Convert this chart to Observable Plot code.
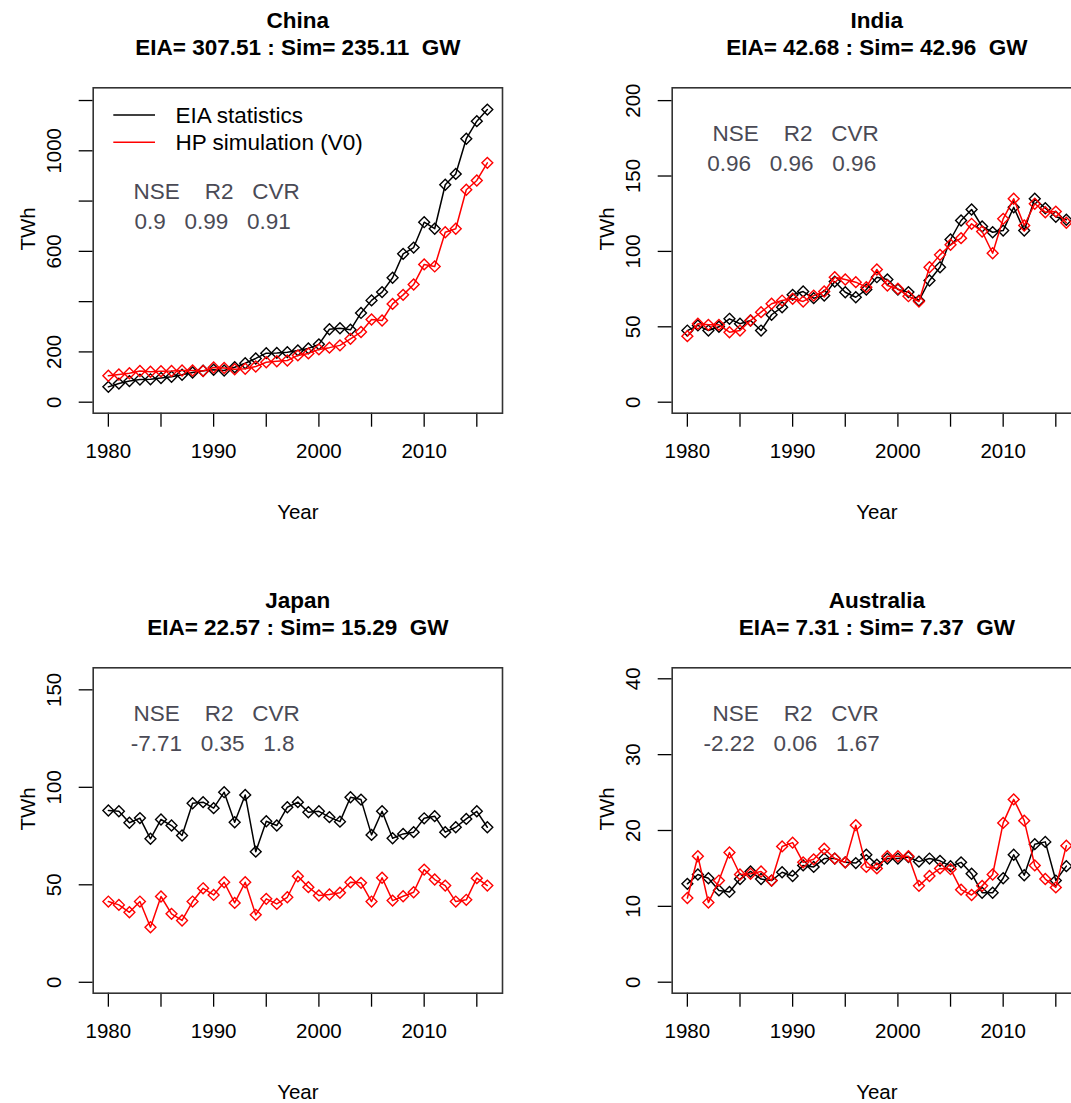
<!DOCTYPE html>
<html>
<head>
<meta charset="utf-8">
<script src="https://cdn.jsdelivr.net/npm/d3@7"></script>
<script src="https://cdn.jsdelivr.net/npm/@observablehq/plot@0.6"></script>
<style>
html, body { margin: 0; padding: 0; background: #fff; }
#wrap { position: relative; width: 1071px; height: 1103px; overflow: hidden; background: #fff; }
.panel { position: absolute; width: 540px; height: 580px; }
.panel svg text { white-space: pre; }
</style>
</head>
<body>
<div id="wrap"></div>
<script>
// ---------- data ----------
const years = [1980,1981,1982,1983,1984,1985,1986,1987,1988,1989,1990,1991,1992,1993,1994,1995,1996,1997,1998,1999,2000,2001,2002,2003,2004,2005,2006,2007,2008,2009,2010,2011,2012,2013,2014,2015,2016];
const xTicks = [1980,1985,1990,1995,2000,2005,2010,2015];
const xTickLabels = [1980,1990,2000,2010];

const countries = ["China", "India", "Japan", "Australia"];
const eiaMeanGW = ["307.51", "42.68", "22.57", "7.31"];
const simMeanGW = ["235.11", "42.96", "15.29", "7.37"];
const statNames = "NSE    R2   CVR";
const nseValues = ["0.9", "0.96", "-7.71", "-2.22"];
const r2Values = ["0.99", "0.96", "0.35", "0.06"];
const cvrValues = ["0.91", "0.96", "1.8", "1.67"];
const legendLabels = ["EIA statistics", "HP simulation (V0)"];
const yAxisTitle = "TWh";
const xAxisTitle = "Year";

const chinaEIA = [61,74,84,90,91,96,101,109,118,125,129,126,139,155,174,195,196,199,206,214,230,290,294,288,355,405,438,495,590,615,716,690,865,908,1048,1118,1164];
const chinaSim = [105,110,115,124,121,123,124,126,126,124,138,136,131,133,142,159,163,166,186,194,210,217,226,252,279,329,325,391,427,468,548,540,676,690,845,882,952];

const indiaEIA = [47.5,50.9,47.5,50,55.3,52,54.2,47.5,58,63,71.2,73.4,69,70.7,80,72.9,69.6,74.7,82.9,81.4,74.7,73,67.4,80.7,89.5,107.9,120.5,127.8,116.5,112.7,113.8,129.3,113.8,134.9,128.6,123,121];
const indiaSim = [43.8,52,51.3,51.3,46.4,47.5,54.2,59.7,65.3,67.4,68.6,66.8,70.7,73.4,82.9,81.4,79.6,76.3,88,77.4,75.2,70.3,66.8,89.5,97.7,104.4,108.8,118.3,113.2,98.8,121.6,134.9,117.2,131.6,126,126.4,119];

const japanEIA = [88.1,87.7,81.8,84.2,73.6,83.5,80.4,75.3,91.8,92.4,89.3,97.5,82.1,96.1,67,82.6,80.4,89.8,92.4,87.2,87.7,84.7,82.4,94.9,93.7,75.6,87.7,73.9,76.1,77,84.1,85.2,77,79.5,83.8,87.7,79.5];
const japanSim = [41.4,39.7,35.9,41.4,28.2,44,35.1,31.7,41.4,48.2,44.8,51.3,40.7,51.3,34.6,42.8,40.2,43.6,54.4,48.8,44.5,45,45.9,51.3,51,41.4,53.6,41.9,44.1,46.2,57.8,52.7,49.6,41.4,42.3,53.4,49.6];

const australiaEIA = [12.97,14.2,13.7,12.1,11.9,13.6,14.6,13.6,13.4,14.5,14,15.4,15.2,16.3,16.3,15.8,15.7,16.8,15.5,16.3,16.3,16.5,15.9,16.3,16,15.3,15.8,14.3,11.8,11.8,13.7,16.8,14.1,18.2,18.5,13.4,15.3];
const australiaSim = [11.1,16.6,10.5,13.4,17.1,14.2,14.3,14.6,13.4,17.9,18.4,15.8,16.2,17.6,16.3,15.8,20.7,15.2,15,16.6,16.6,16.6,12.7,14,15,14.9,12.2,11.5,12.7,14.2,21,24.1,21.3,15.4,13.6,12.5,18];

const yTicksChina = [0,200,400,600,800,1000,1200];
const yLabelsChina = [0,200,600,1000];
const yTicksIndia = [0,50,100,150,200];
const yTicksJapan = [0,50,100,150];
const yTicksAustralia = [0,10,20,30,40];

// ---------- layout ----------
const FONT = "'Liberation Sans', Arial, Helvetica, sans-serif";
const ML = 92.7, MT = 87.3, W = 540, H = 580, MR = 38, MB = 167.3;
const AXIS_FS = 20.5, BIG_FS = 22.5;

const panels = [
  {i: 0, eia: chinaEIA, sim: chinaSim, yTicks: yTicksChina, yLabels: yLabelsChina, yDomain: [-43.8, 1250.6], left: 0, top: 0, legend: true},
  {i: 1, eia: indiaEIA, sim: indiaSim, yTicks: yTicksIndia, yLabels: yTicksIndia, yDomain: [-7.3, 208.5], left: 579, top: 0, legend: false},
  {i: 2, eia: japanEIA, sim: japanSim, yTicks: yTicksJapan, yLabels: yTicksJapan, yDomain: [-5.6, 161.3], left: 0, top: 580, legend: false},
  {i: 3, eia: australiaEIA, sim: australiaSim, yTicks: yTicksAustralia, yLabels: yTicksAustralia, yDomain: [-1.45, 41.45], left: 579, top: 580, legend: false}
];

const wrap = document.getElementById("wrap");

for (const p of panels) {
  const i = p.i;
  const rowsE = years.map((year, j) => ({year, value: p.eia[j]}));
  const rowsS = years.map((year, j) => ({year, value: p.sim[j]}));
  const statsDy = p.legend ? 104.4 : 46;
  const legendMarks = p.legend ? [
    Plot.text([legendLabels[0]], {text: d => d, frameAnchor: "top-left", dx: 82.3, dy: 27.7, textAnchor: "start", lineAnchor: "middle", fontSize: BIG_FS, fill: "black"}),
    Plot.text([legendLabels[1]], {text: d => d, frameAnchor: "top-left", dx: 82.3, dy: 55, textAnchor: "start", lineAnchor: "middle", fontSize: BIG_FS, fill: "black"})
  ] : [];

  const svg = Plot.plot({
    width: W, height: H,
    marginLeft: ML, marginRight: MR, marginTop: MT, marginBottom: MB,
    style: {fontFamily: FONT, fontSize: AXIS_FS + "px", background: "white", overflow: "visible", maxWidth: "none", color: "black"},
    x: {domain: [1978.56, 2017.44]},
    y: {domain: p.yDomain},
    marks: [
      Plot.axisX({ticks: xTicks, tickSize: 14, tickPadding: 16, tickFormat: d => xTickLabels.includes(d) ? String(d) : "", label: null, strokeWidth: 1.3}),
      Plot.axisY({ticks: p.yTicks, tickSize: 14, tickPadding: 18, tickRotate: -90, tickFormat: d => p.yLabels.includes(d) ? String(d) : "", label: null, strokeWidth: 1.3}),
      Plot.line(rowsE, {x: "year", y: "value", stroke: "black", strokeWidth: 1.5}),
      Plot.dot(rowsE, {x: "year", y: "value", symbol: "diamond2", r: 4.9, stroke: "black", strokeWidth: 1.4}),
      Plot.line(rowsS, {x: "year", y: "value", stroke: "#ff0000", strokeWidth: 1.5}),
      Plot.dot(rowsS, {x: "year", y: "value", symbol: "diamond2", r: 4.9, stroke: "#ff0000", strokeWidth: 1.4}),
      Plot.frame({stroke: "#333", strokeWidth: 1.6}),
      Plot.text([countries[i]], {text: d => d, frameAnchor: "top", dy: -67.3, lineAnchor: "middle", fontWeight: "bold", fontSize: BIG_FS, fill: "black"}),
      Plot.text([`EIA= ${eiaMeanGW[i]} : Sim= ${simMeanGW[i]}  GW`], {text: d => d, frameAnchor: "top", dy: -40.3, lineAnchor: "middle", fontWeight: "bold", fontSize: BIG_FS, fill: "black"}),
      Plot.text([yAxisTitle], {text: d => d, frameAnchor: "left", dx: -64.7, rotate: -90, lineAnchor: "middle", fontSize: AXIS_FS, fill: "black"}),
      Plot.text([xAxisTitle], {text: d => d, frameAnchor: "bottom", dy: 99.3, lineAnchor: "middle", fontSize: AXIS_FS, fill: "black"}),
      Plot.text([statNames], {text: d => d, frameAnchor: "top-left", dx: 123.5, dy: statsDy, textAnchor: "middle", lineAnchor: "middle", fontSize: BIG_FS, fill: "#4a4a55"}),
      Plot.text([`${nseValues[i]}   ${r2Values[i]}   ${cvrValues[i]}`], {text: d => d, frameAnchor: "top-left", dx: 119.5, dy: statsDy + 30, textAnchor: "middle", lineAnchor: "middle", fontSize: BIG_FS, fill: "#4a4a55"}),
      ...legendMarks
    ]
  });

  const s = d3.select(svg);
  s.selectAll("text").attr("xml:space", "preserve");
  if (p.legend) {
    const ly = [MT + 27.7, MT + 55];
    const cols = ["black", "#ff0000"];
    ly.forEach((y, k) => {
      s.append("line")
        .attr("x1", ML + 20.6).attr("x2", ML + 62.3)
        .attr("y1", y).attr("y2", y)
        .attr("stroke", cols[k]).attr("stroke-width", 1.4);
    });
  }

  const div = document.createElement("div");
  div.className = "panel";
  div.style.left = p.left + "px";
  div.style.top = p.top + "px";
  div.appendChild(svg);
  wrap.appendChild(div);
}
</script>
</body>
</html>
